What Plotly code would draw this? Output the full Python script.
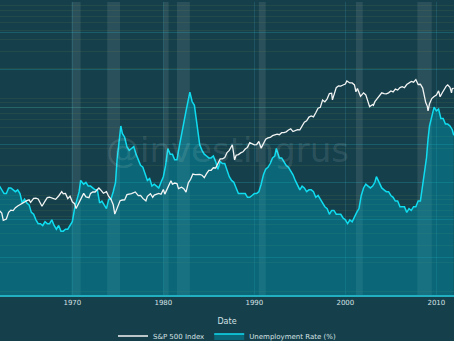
import plotly.graph_objects as go

sp_dates = ["1962-01","1962-04","1962-06","1962-10","1963-01","1963-04","1963-07","1963-10",
"1964-01","1964-04","1964-07","1964-10","1965-01","1965-04","1965-06","1965-10",
"1966-01","1966-04","1966-07","1966-09","1967-01","1967-04","1967-07","1967-10",
"1968-01","1968-03","1968-07","1968-11","1969-01","1969-04","1969-07","1969-10",
"1970-01","1970-04","1970-06","1970-10","1971-01","1971-04","1971-07","1971-11",
"1972-01","1972-04","1972-07","1972-12","1973-03","1973-06","1973-10","1974-01",
"1974-04","1974-07","1974-09","1975-01","1975-04","1975-07","1975-10","1976-01",
"1976-04","1976-07","1976-12","1977-04","1977-07","1977-10","1978-02","1978-04",
"1978-08","1978-11","1979-01","1979-04","1979-07","1979-10","1980-01","1980-03",
"1980-07","1980-11","1981-01","1981-04","1981-07","1981-09","1982-01","1982-04",
"1982-07","1982-10","1983-01","1983-04","1983-07","1983-10","1984-01","1984-04",
"1984-07","1984-10","1985-01","1985-04","1985-07","1985-10","1986-01","1986-04",
"1986-07","1986-10","1987-01","1987-04","1987-08","1987-11","1988-01","1988-04",
"1988-07","1988-10","1989-01","1989-04","1989-07","1989-10","1990-01","1990-04",
"1990-07","1990-10","1991-01","1991-04","1991-07","1991-10","1992-01","1992-04",
"1992-07","1992-10","1993-01","1993-04","1993-07","1993-10","1994-01","1994-04",
"1994-07","1994-10","1995-01","1995-04","1995-07","1995-10","1996-01","1996-04",
"1996-07","1996-10","1997-01","1997-04","1997-07","1997-10","1998-01","1998-04",
"1998-07","1998-08","1998-10","1999-01","1999-04","1999-07","1999-10","2000-01",
"2000-03","2000-07","2000-10","2001-01","2001-03","2001-05","2001-09","2002-01",
"2002-04","2002-07","2002-09","2003-01","2003-02","2003-04","2003-07","2003-10",
"2004-01","2004-04","2004-07","2004-10","2005-01","2005-04","2005-07","2005-10",
"2006-01","2006-04","2006-07","2006-10","2007-01","2007-04","2007-07","2007-10",
"2008-01","2008-04","2008-07","2008-10","2008-11","2009-01","2009-02","2009-04",
"2009-07","2009-10","2010-01","2010-04","2010-06","2010-09","2010-12","2011-02",
"2011-04","2011-07","2011-09","2011-10","2011-12"]
sp_values = [68.8,65.2,54.8,56.5,66.2,69.8,69.1,74.0,
77.0,79.5,83.2,85.0,87.6,89.1,84.1,92.4,
92.9,91.1,83.6,76.6,86.6,94.0,94.8,93.3,
92.2,90.2,97.7,108.4,103.0,103.7,91.8,97.1,
85.0,81.5,72.7,83.3,95.9,104.0,95.6,93.9,
103.9,107.7,107.4,118.1,111.5,104.3,108.3,96.6,
90.3,79.3,63.5,76.9,87.3,88.8,89.0,100.9,
101.6,103.4,107.5,98.4,98.9,92.3,87.0,97.0,
103.3,94.7,99.9,101.8,103.8,101.8,114.2,102.1,
121.7,140.5,129.6,132.8,130.9,116.2,120.4,116.4,
107.1,133.7,145.3,164.4,162.6,163.6,163.4,160.1,
150.7,166.1,179.6,179.8,190.9,189.8,211.8,235.5,
236.1,243.0,274.1,288.4,329.8,230.3,257.1,261.3,
272.0,278.9,297.5,309.6,346.1,340.4,329.1,330.8,
356.2,304.0,343.9,375.3,387.8,392.5,408.8,414.9,
424.2,418.7,438.8,440.2,448.1,467.8,481.6,450.9,
458.3,472.4,470.4,514.7,562.1,581.5,636.0,654.2,
639.9,705.3,786.2,801.3,954.3,914.6,980.3,1111.8,
1120.7,957.3,1098.7,1279.6,1335.2,1328.7,1362.9,1394.5,
1498.6,1430.8,1429.4,1366.0,1160.3,1255.8,1040.9,1130.2,
1076.9,911.6,815.3,855.7,841.2,916.9,990.3,1050.7,
1131.1,1107.3,1101.7,1130.2,1181.3,1156.9,1234.2,1207.0,
1280.1,1310.6,1276.7,1377.9,1438.2,1482.4,1455.3,1549.4,
1378.6,1385.6,1267.4,968.8,896.2,825.9,735.1,872.8,
987.5,1036.2,1073.9,1186.7,1030.7,1141.2,1257.6,1327.2,
1363.6,1292.3,1131.4,1253.3,1257.6]

un_dates = ["1962-01","1962-04","1962-07","1962-10","1963-01","1963-04","1963-07","1963-10",
"1964-01","1964-04","1964-07","1964-10","1965-01","1965-04","1965-07","1965-10",
"1966-01","1966-04","1966-07","1966-10","1967-01","1967-04","1967-07","1967-10",
"1968-01","1968-04","1968-07","1968-10","1969-01","1969-04","1969-07","1969-10",
"1970-01","1970-04","1970-07","1970-10","1970-12","1971-04","1971-07","1971-10",
"1972-01","1972-04","1972-07","1972-10","1973-01","1973-04","1973-07","1973-10",
"1974-01","1974-04","1974-07","1974-10","1974-12","1975-02","1975-05","1975-07","1975-10",
"1976-01","1976-04","1976-07","1976-10","1977-01","1977-04","1977-07","1977-10",
"1978-01","1978-04","1978-07","1978-10","1979-01","1979-04","1979-07","1979-10",
"1980-01","1980-04","1980-07","1980-10","1981-01","1981-04","1981-07","1981-10",
"1982-01","1982-04","1982-07","1982-10","1982-12","1983-03","1983-06","1983-08","1983-10",
"1984-01","1984-04","1984-07","1984-10","1985-01","1985-04","1985-07","1985-10",
"1986-01","1986-04","1986-07","1986-10","1987-01","1987-04","1987-07","1987-10",
"1988-01","1988-04","1988-07","1988-10","1989-01","1989-04","1989-07","1989-10",
"1990-01","1990-04","1990-07","1990-10","1991-01","1991-04","1991-07","1991-10",
"1992-01","1992-04","1992-06","1992-10","1993-01","1993-04","1993-07","1993-10",
"1994-01","1994-04","1994-07","1994-10","1995-01","1995-04","1995-07","1995-10",
"1996-01","1996-04","1996-07","1996-10","1997-01","1997-04","1997-07","1997-10",
"1998-01","1998-04","1998-07","1998-10","1999-01","1999-04","1999-07","1999-10",
"2000-01","2000-04","2000-07","2000-10","2001-01","2001-04","2001-07","2001-10",
"2002-01","2002-04","2002-07","2002-10","2003-01","2003-04","2003-06","2003-10",
"2004-01","2004-04","2004-07","2004-10","2005-01","2005-04","2005-07","2005-10",
"2006-01","2006-04","2006-07","2006-10","2007-01","2007-04","2007-07","2007-10",
"2008-01","2008-04","2008-07","2008-10","2008-12","2009-02","2009-04","2009-07","2009-10",
"2010-01","2010-04","2010-07","2010-10","2011-01","2011-04","2011-07","2011-10","2011-12"]
un_values = [5.8,5.6,5.4,5.4,5.7,5.7,5.6,5.5,
5.6,5.4,4.9,5.1,4.9,4.8,4.4,4.3,
4.0,3.8,3.8,3.7,3.9,3.8,3.8,4.0,
3.7,3.5,3.7,3.4,3.4,3.5,3.5,3.7,
3.9,4.6,5.0,5.5,6.1,5.9,6.0,5.8,
5.8,5.7,5.6,5.6,4.9,5.0,4.8,4.6,
5.1,5.1,5.5,6.0,7.2,8.1,9.0,8.6,8.4,
7.9,7.7,7.8,7.9,7.5,7.2,6.9,6.8,
6.4,6.1,6.2,5.8,5.9,5.8,5.7,6.0,
6.3,6.9,7.8,7.5,7.5,7.2,7.2,7.9,
8.6,9.3,9.8,10.4,10.8,10.3,10.1,9.5,8.8,
8.0,7.7,7.5,7.4,7.3,7.3,7.4,7.1,
6.7,7.1,7.0,7.0,6.6,6.3,6.1,6.0,
5.7,5.4,5.4,5.4,5.4,5.2,5.2,5.3,
5.4,5.4,5.5,5.9,6.4,6.7,6.8,7.0,
7.3,7.4,7.8,7.3,7.3,7.1,6.9,6.8,
6.6,6.4,6.1,5.8,5.6,5.8,5.7,5.5,
5.6,5.6,5.5,5.2,5.3,5.1,4.9,4.7,
4.6,4.3,4.5,4.5,4.3,4.3,4.3,4.1,
4.0,3.8,4.0,3.9,4.2,4.4,4.6,5.3,
5.7,5.9,5.8,5.7,5.8,6.0,6.3,6.0,
5.7,5.6,5.5,5.5,5.3,5.2,5.0,5.0,
4.7,4.7,4.7,4.4,4.6,4.5,4.7,4.7,
5.0,5.0,5.8,6.5,7.3,8.3,9.0,9.5,10.0,
9.8,9.9,9.4,9.4,9.1,9.1,9.0,8.8,8.5]

rec_starts = ["1969-12-01","1973-11-01","1980-01-01","1981-07-01","1990-07-01","2001-03-01","2007-12-01"]
rec_ends = ["1970-11-30","1975-03-31","1980-07-31","1982-11-30","1991-03-31","2001-11-30","2009-06-30"]

BG = "#143f4b"
FONT = "DejaVu Sans"

fig = go.Figure()
fig.add_trace(go.Scatter(
    x=un_dates, y=un_values, name="Unemployment Rate (%)", yaxis="y",
    mode="lines", fill="tozeroy", fillcolor="rgba(0,160,180,0.42)",
    line=dict(color="#10dcf0", width=1.5)))
fig.add_trace(go.Scatter(
    x=sp_dates, y=sp_values, name="S&P 500 Index", yaxis="y2",
    mode="lines", line=dict(color="#f2f4f4", width=1.3)))

for s, e in zip(rec_starts, rec_ends):
    fig.add_shape(type="rect", xref="x", yref="paper", x0=s, x1=e, y0=0, y1=1,
                  fillcolor="rgba(255,255,255,0.09)", line=dict(width=0), layer="between")

fig.add_annotation(text="@investingrus", xref="paper", yref="paper", x=0.5, y=0.495,
                   showarrow=False, font=dict(family=FONT, size=34, color="rgba(255,255,255,0.11)"))

fig.update_layout(
    width=454, height=341,
    margin=dict(l=0, r=0, t=2, b=46, autoexpand=False),
    paper_bgcolor=BG, plot_bgcolor=BG,
    font=dict(family=FONT, color="#d6e2e4", size=7),
    showlegend=True,
    legend=dict(orientation="h", x=0.5, xanchor="center", y=-0.14, yanchor="middle",
                font=dict(size=7, color="#d6e2e4"), bgcolor="rgba(0,0,0,0)",
                itemwidth=30, traceorder="reversed"),
    xaxis=dict(type="date", range=["1962-01-20", "2011-12-10"], automargin=False,
               showgrid=True, gridcolor="rgba(70,170,190,0.2)", gridwidth=1,
               dtick="M120", tick0="1970-01-01", tickformat="%Y",
               tickfont=dict(size=7, color="#d6e2e4"),
               showline=True, linecolor="#22b0c0", linewidth=1.5,
               ticks="", zeroline=False,
               title=dict(text="Date", font=dict(size=8, color="#d6e2e4"), standoff=12)),
    yaxis=dict(range=[0, 15.6], showticklabels=False, showgrid=True, automargin=False,
               gridcolor="rgba(40,200,215,0.22)", dtick=2, zeroline=False, fixedrange=True),
    yaxis2=dict(type="log", range=[0.969, 3.99], overlaying="y", side="right", automargin=False,
                showticklabels=False, showgrid=True, dtick="D1",
                gridcolor="rgba(150,160,70,0.12)", zeroline=False, ticks=""),
)

fig.write_html("out.html")
